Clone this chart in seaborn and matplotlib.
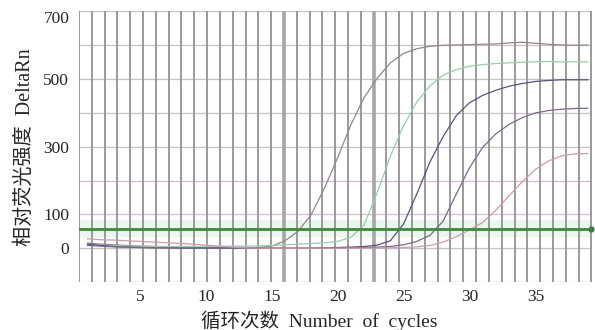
import numpy as np
import pandas as pd
import matplotlib
matplotlib.use("Agg")
import matplotlib.pyplot as plt
import seaborn as sns

# cycles 1..39 and the fluorescence (DeltaRn)
cycles = list(range(1, 40))
curve_a = [15, 12, 10, 8, 6, 5, 4, 4, 3, 3, 2, 2, 2, 2,
           6, 22, 50, 100, 178, 268, 365, 445, 503, 548, 576, 590, 597, 600,
           601, 602, 603, 604, 607, 609, 606, 603, 601, 600, 601]
curve_b = [10, 8, 7, 6, 6, 5, 5, 5, 5, 5, 5, 6, 6, 7,
           8, 10, 12, 14, 16, 20, 32, 68, 165, 272, 362, 432, 480, 512,
           528, 538, 543, 546, 548, 550, 551, 552, 551, 551, 551]
curve_c = [12, 8, 5, 3, 2, 1, 1, 0, 0, 0, 0, 0, 0, 0,
           0, 0, 0, 0, 1, 2, 3, 5, 9, 22, 72, 160, 255, 330,
           392, 430, 452, 467, 479, 487, 493, 496, 498, 498, 498]
curve_d = [8, 6, 4, 3, 2, 2, 1, 1, 1, 1, 1, 0, 0, 0,
           0, 0, 0, 0, 0, 0, 1, 2, 3, 5, 10, 20, 38, 80,
           160, 238, 298, 338, 366, 386, 400, 407, 411, 413, 414]
curve_e = [28, 25, 24, 22, 20, 18, 16, 14, 12, 9, 6, 3, 1, 0,
           0, 0, 0, 0, 0, 0, 0, 0, 0, 1, 2, 4, 8, 18,
           34, 54, 76, 112, 155, 196, 233, 258, 273, 279, 280]
threshold = 58

x_ticks = [5, 10, 15, 20, 25, 30, 35]
y_ticks = [0, 100, 300, 500, 700]

df = pd.DataFrame({
    "cycle": cycles * 5,
    "rn": curve_a + curve_b + curve_c + curve_d + curve_e,
    "well": ["a"] * 39 + ["b"] * 39 + ["c"] * 39 + ["d"] * 39 + ["e"] * 39,
})

sns.set_theme(style="white")
plt.rcParams["font.family"] = ["Liberation Serif", "Noto Sans CJK SC"]

fig = plt.figure(figsize=(5.95, 3.30), dpi=100)
ax = fig.add_axes([0.1328, 0.1455, 0.8622, 0.8197])
xmin, xmax = 0.37, 39.3
ax.set_xlim(xmin, xmax)
ax.set_ylim(-100, 700)

# background grid like the instrument software
ax.axhspan(35, 82, color="#eaf6ee", zorder=0)
for v in range(-100, 701, 100):
    c = "#d6bcd4" if v in (100, 200) else "#c4c4c4"
    ax.axhline(v, color=c, lw=0.9, zorder=1)
for i, xv in enumerate(np.linspace(xmin, xmax - 0.05, 41)):
    thick = i in (16, 23)
    ax.axvline(xv, color="#a6a6a6" if thick else "#939393",
               lw=2.6 if thick else 1.3, zorder=1)

palette = {"a": "#958490", "b": "#9ccda6", "c": "#55547c",
           "d": "#80678d", "e": "#cc9cae"}
sns.lineplot(data=df, x="cycle", y="rn", hue="well", palette=palette,
             legend=False, lw=0.9, ax=ax, zorder=3)

ax.axhline(threshold, color="#3d8a3d", lw=2.0, zorder=4)
ax.plot([xmax - 0.05], [threshold], "o", color="#3d7a3d", ms=3.5, zorder=5,
        clip_on=False)

ax.set_xticks(x_ticks)
ax.set_yticks(y_ticks)
ax.tick_params(axis="both", length=0, labelsize=12.5)
ax.tick_params(axis="y", pad=7)
ax.tick_params(axis="x", pad=5)
ax.get_yticklabels()[-1].set_va("top")
for s in ax.spines.values():
    s.set_visible(False)

ax.set_xlabel("循环次数  Number  of  cycles", fontsize=14)
ax.xaxis.set_label_coords(0.468, -0.105)
ax.set_ylabel("相对荧光强度  DeltaRn", fontsize=14.5, labelpad=6)

fig.savefig("out.png", dpi=100)
